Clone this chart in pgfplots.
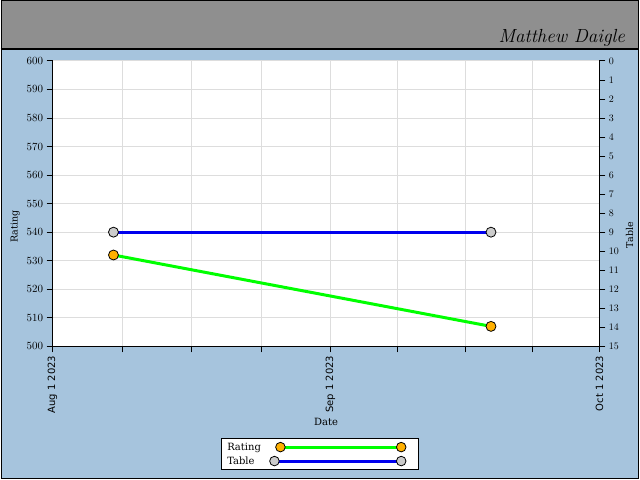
\documentclass[border=0pt]{standalone}
\usepackage{pgfplots}
\pgfplotsset{compat=1.18}
\usepackage{fontspec}
\newfontfamily\serif{DejaVu Serif}
\newfontfamily\sans{DejaVu Sans}
\definecolor{bgblue}{HTML}{A6C4DD}
\definecolor{hdr}{HTML}{8F8F8F}
\definecolor{gridc}{HTML}{DDDDDD}
\definecolor{mkorange}{HTML}{FFB000}
\definecolor{mkgray}{HTML}{CCCCCC}
\definecolor{lgreen}{HTML}{00FF00}
\definecolor{lblue}{HTML}{0000EE}

\begin{document}
\begin{tikzpicture}[x=1pt,y=1pt]
\fill[bgblue] (0,0) rectangle (640,480);
\fill[hdr] (0,431) rectangle (640,480);
\draw[line width=1.2pt] (0,431) -- (640,431);
\node[anchor=base east, font=\fontsize{19}{19}\selectfont\itshape] at (629,437) {Matthew Daigle};

% left axis: rating
\begin{axis}[
  at={(52pt,133pt)}, anchor=south west, scale only axis,
  width=548pt, height=286pt,
  xmin=0, xmax=61, ymin=500, ymax=600,
  axis x line*=bottom, axis y line*=left,
  axis line style={-, black, line width=1pt},
  axis background/.style={fill=white},
  xtick={0,31,61}, xticklabels={Aug 1 2023, Sep 1 2023, Oct 1 2023},
  minor xtick={7.75,15.5,23.25,38.5,46,53.5},
  ytick distance=10,
  tick align=outside, major tick length=6pt, minor tick length=6pt,
  tick style={black, line width=0.8pt},
  grid=both,
  major grid style={gridc, line width=0.8pt},
  minor grid style={gridc, line width=0.8pt},
  x tick label style={rotate=90, anchor=east, font=\sans\fontsize{10}{10}\selectfont},
  y tick label style={font=\sans\fontsize{10.5}{10}\selectfont},
  xlabel={Date}, ylabel={Rating},
  xlabel style={font=\serif\fontsize{10}{10}\selectfont, yshift=2pt},
  ylabel style={font=\serif\fontsize{9.5}{10}\selectfont, at={(ticklabel cs:0.42)}},
  legend plot pos=right,
  legend cell align=left,
  legend style={at={(rel axis cs:0.489,-0.3776)}, anchor=center,
    draw=black, line width=1pt, fill=white,
    font=\serif\fontsize{10}{10}\selectfont,
    inner xsep=4pt, inner ysep=2pt, row sep=1pt,
    /tikz/every odd column/.append style={column sep=5pt}},
]
\addplot[lgreen, line width=3pt,
  mark=*, mark size=5pt, mark options={fill=mkorange, draw=black, line width=0.8pt},
  legend image code/.code={
    \path (-5pt,0pt) (139pt,0pt);
    \draw[lgreen, line width=3pt] (6pt,0pt) -- (127pt,0pt);
    \filldraw[fill=mkorange, draw=black, line width=0.8pt] (6pt,0pt) circle (4.8pt);
    \filldraw[fill=mkorange, draw=black, line width=0.8pt] (127pt,0pt) circle (4.8pt);
  }]
  coordinates {(6.8,532) (48.9,507)};
\addlegendentry{Rating}
\addlegendimage{legend image code/.code={
    \path (139pt,0pt);
    \draw[lblue, line width=3pt] (0pt,0pt) -- (127pt,0pt);
    \filldraw[fill=mkgray, draw=black, line width=0.8pt] (0pt,0pt) circle (4.8pt);
    \filldraw[fill=mkgray, draw=black, line width=0.8pt] (127pt,0pt) circle (4.8pt);
  }}
\addlegendentry{Table}
\end{axis}

% right axis: table position
\begin{axis}[
  at={(52pt,133pt)}, anchor=south west, scale only axis,
  width=548pt, height=286pt,
  xmin=0, xmax=61, ymin=0, ymax=15, y dir=reverse,
  axis x line=none, axis y line*=right,
  axis line style={-, black, line width=1pt},
  ytick={0,1,...,15},
  tick align=outside, major tick length=6pt,
  tick style={black, line width=0.8pt},
  y tick label style={font=\serif\fontsize{10}{10}\selectfont},
  ylabel={Table},
  ylabel style={font=\serif\fontsize{9.5}{10}\selectfont, at={(ticklabel cs:0.39)}},
]
\addplot[lblue, line width=3pt,
  mark=*, mark size=5pt, mark options={fill=mkgray, draw=black, line width=0.8pt}]
  coordinates {(6.8,9) (48.9,9)};
\end{axis}

\draw[line width=1.5pt] (0.75,0.75) rectangle (639.25,479.25);
\end{tikzpicture}
\end{document}
